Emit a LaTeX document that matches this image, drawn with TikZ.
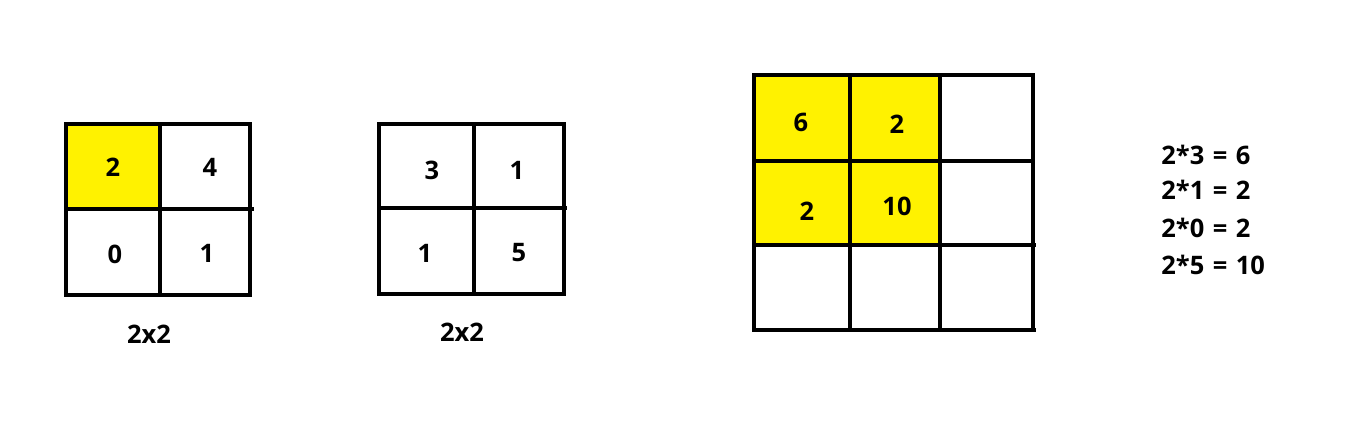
\documentclass[tikz,border=0pt]{standalone}
\usepackage{fontspec}
\setmainfont{Open Sans}
\usepackage{xcolor}
\usetikzlibrary{positioning}
\definecolor{cellyellow}{RGB}{255,242,0}
\tikzset{every node/.style={font=\fontsize{14.5}{17}\selectfont\bfseries}}

\begin{document}
\begin{tikzpicture}[
x=0.02cm, y=-0.02cm,
grid/.style={line width=2.7pt},
val/.style={inner sep=0pt},
eqn/.style={inner sep=0pt, anchor=west}
]
\useasboundingbox (0,0) rectangle (1349,446);

% first matrix
\fill[cellyellow] (66,124) rectangle (160,209);
\draw[grid] (66,124) rectangle (250,295);
\draw[grid] (160,124) -- (160,295);
\draw[grid] (66,209) -- (254,209);

\node[val] (a11) at (113,167) {2};
\node[val] (a12) at (210,167) {4};
\node[val] (a21) at (115,254) {0};
\node[val] (a22) at (207,253) {1};
\node[val] (sizeA) at (149,334) {2x2};

% second matrix
\draw[grid] (379,124) rectangle (564,294);
\draw[grid] (474,124) -- (474,294);
\draw[grid] (379,208) -- (567,208);

\node[val] (b11) at (432,170) {3};
\node[val] (b12) at (517,170) {1};
\node[val] (b21) at (425,253) {1};
\node[val] (b22) at (519,253) {5};
\node[val] (sizeB) at (462,332) {2x2};

% result
\fill[cellyellow] (754,75) rectangle (940,245);
\draw[grid] (754,75) rectangle (1033,330);
\draw[grid] (850,75) -- (850,330);
\draw[grid] (940,75) -- (940,330);
\draw[grid] (754,161) -- (1033,161);
\draw[grid] (752,245) -- (1036,245);
\draw[grid] (752,330) -- (1036,330);

\node[val] (c11) at (801,122) {6};
\node[val] (c12) at (897,124) {2};
\node[val] (c21) at (807,211) {2};
\node[val] (c22) at (897,206) {10};

% products
\node[eqn] (p1) at (1161,155) {2*3\,\,=\,\,6};
\node[eqn] (p2) at (1161,190) {2*1\,\,=\,\,2};
\node[eqn] (p3) at (1161,228) {2*0\,\,=\,\,2};
\node[eqn] (p4) at (1161,265) {2*5\,\,=\,\,10};

\end{tikzpicture}
\end{document}
